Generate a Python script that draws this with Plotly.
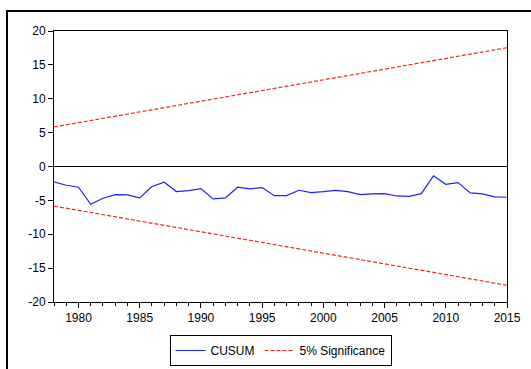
import plotly.graph_objects as go

years = list(range(1978, 2016))
cusum = [-2.27, -2.77, -3.06, -5.58, -4.69, -4.15, -4.20, -4.64, -2.96, -2.32,
         -3.70, -3.56, -3.26, -4.79, -4.64, -3.06, -3.31, -3.11, -4.30, -4.30,
         -3.51, -3.85, -3.70, -3.51, -3.70, -4.15, -4.05, -4.00, -4.35, -4.40,
         -4.00, -1.38, -2.62, -2.37, -3.90, -4.05, -4.49, -4.54]
bound_years = [1978, 2015]
upper_bound = [5.84, 17.53]
lower_bound = [-5.84, -17.53]

x_tickvals = [1980, 1985, 1990, 1995, 2000, 2005, 2010, 2015]
x_ticktext = ["1980", "1985", "1990", "1995", "2000", "2005", "2010", "2015"]
y_tickvals = [-20, -15, -10, -5, 0, 5, 10, 15, 20]
y_ticktext = ["-20", "-15", "-10", "-5", "0", "5", "10", "15", "20"]

FONT = "Liberation Sans, Arial, sans-serif"

fig = go.Figure()
fig.add_trace(go.Scatter(x=years, y=cusum, mode="lines", name="CUSUM",
                         line=dict(color="#2020ff", width=1.2)))
fig.add_trace(go.Scatter(x=bound_years, y=upper_bound, mode="lines", name="5% Significance",
                         line=dict(color="#ff2020", width=1.2, dash="4px,2px")))
fig.add_trace(go.Scatter(x=bound_years, y=lower_bound, mode="lines", name="5% Significance",
                         showlegend=False,
                         line=dict(color="#ff2020", width=1.2, dash="4px,2px")))

L, R, T, B = 54, 24, 31, 67
W, H = 531, 369
pw, ph = W - L - R, H - T - B

def px_x(p):
    return (p - L) / pw

def px_y(p):
    return (H - B - p) / ph

fig.add_shape(type="rect", xref="paper", yref="paper",
              x0=px_x(7), x1=px_x(545), y0=px_y(385), y1=px_y(11),
              line=dict(color="black", width=2), fillcolor="rgba(0,0,0,0)")

fig.update_layout(
    width=W, height=H,
    margin=dict(l=L, r=R, t=T, b=B, pad=0, autoexpand=False),
    paper_bgcolor="white", plot_bgcolor="white",
    font=dict(family=FONT, size=12, color="black"),
    showlegend=True,
    legend=dict(orientation="h", x=px_x(280.5), xanchor="center", y=px_y(350.5), yanchor="middle",
                bordercolor="black", borderwidth=1, bgcolor="white",
                font=dict(family=FONT, size=12, color="black"),
                itemwidth=30, tracegroupgap=0),
)
fig.update_xaxes(range=[1978, 2015], tickvals=x_tickvals, ticktext=x_ticktext,
                 ticks="outside", ticklen=5, tickwidth=1, tickcolor="black",
                 minor=dict(dtick=1, tick0=1978, ticks="outside", ticklen=3, tickwidth=1, tickcolor="black"),
                 showline=True, linecolor="black", linewidth=1, mirror=True,
                 showgrid=False, zeroline=False,
                 tickfont=dict(family=FONT, size=12, color="black"))
fig.update_yaxes(range=[-20, 20], tickvals=y_tickvals, ticktext=y_ticktext,
                 ticks="outside", ticklen=5, tickwidth=1, tickcolor="black",
                 showline=True, linecolor="black", linewidth=1, mirror=True,
                 showgrid=False, zeroline=True, zerolinecolor="black", zerolinewidth=1,
                 tickfont=dict(family=FONT, size=12, color="black"))

fig.write_html("out.html", config={"displayModeBar": False},
               post_script="document.body.style.margin='0';")
